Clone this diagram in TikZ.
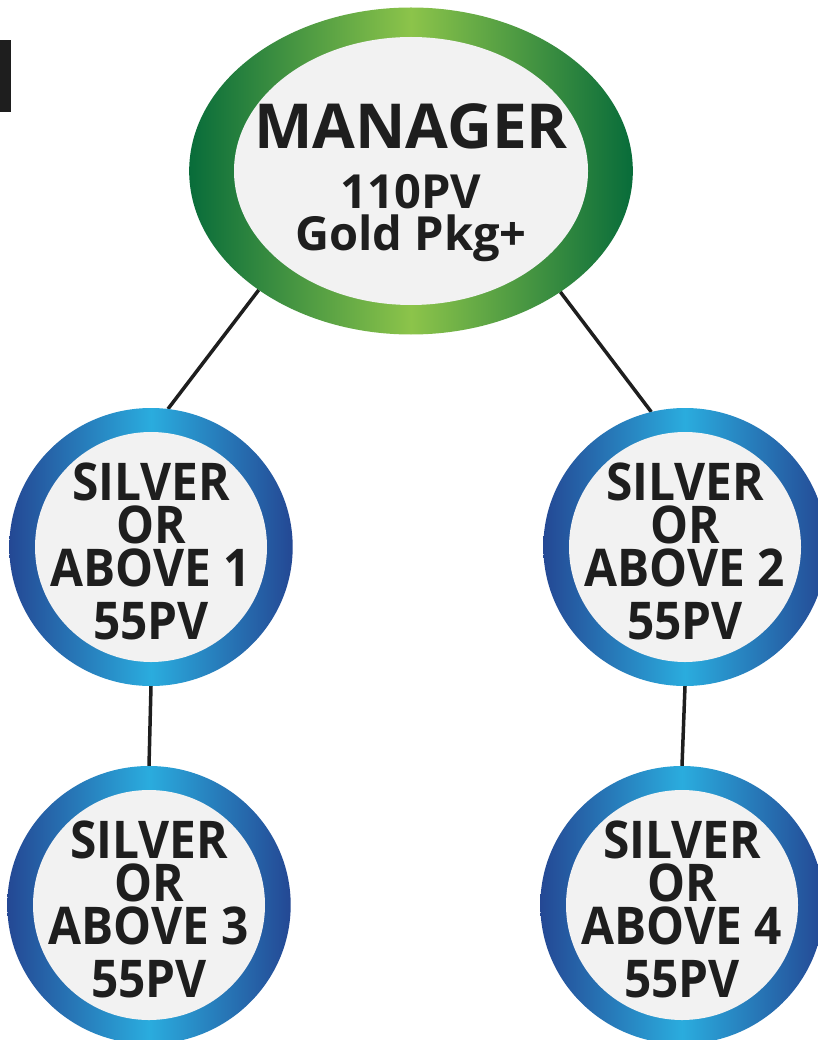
\documentclass[tikz,border=0pt]{standalone}
\usepackage{fontspec}
\newfontfamily\chartfont{Open Sans}[FakeStretch=0.92]
\newfontfamily\headfont{Open Sans}
\usetikzlibrary{shapes.geometric,backgrounds}

\definecolor{mgrdark}{RGB}{8,108,58}
\definecolor{mgrlight}{RGB}{140,196,74}
\definecolor{lvldark}{RGB}{36,72,148}
\definecolor{lvllight}{RGB}{42,172,222}
\definecolor{innerfill}{RGB}{242,242,242}
\definecolor{inktext}{RGB}{30,30,30}

\begin{document}
\begin{tikzpicture}[x=1pt,y=-1pt]

        \tikzset{
            ring/.style={ellipse, inner sep=0pt, outer sep=0pt, align=center, text=inktext},
            manager/.style={ring, minimum width=436pt, minimum height=327pt,
                left color=mgrdark, right color=mgrdark, middle color=mgrlight,
                path picture={\fill[innerfill] (path picture bounding box.center)
                    ellipse [x radius=177pt, y radius=134pt];},
                font=\headfont\bfseries\fontsize{47}{42}\selectfont},
            member/.style={ring, minimum width=276pt, minimum height=278pt,
                left color=lvldark, right color=lvldark, middle color=lvllight,
                path picture={\fill[innerfill] (path picture bounding box.center)
                    ellipse [x radius=116pt, y radius=115pt];},
                font=\chartfont\bfseries\fontsize{52}{43}\selectfont},
            link/.style={line width=3.5pt, inktext}
        }

        \useasboundingbox (0,0) rectangle (818,1040);

        \fill[inktext] (0,40) rectangle (11,112);

        \node[manager] (mgr) at (411,171)
        {{\fontsize{62}{62}\selectfont\rule{0pt}{68pt}MANAGER}\\[18pt]110PV\\Gold Pkg+};

        \node[member] (s1) at (151,547) {\rule{0pt}{47pt}SILVER\\OR\\ABOVE 1\\[10pt]55PV};
        \node[member] (s2) at (685,547) {\rule{0pt}{47pt}SILVER\\OR\\ABOVE 2\\[10pt]55PV};
        \node[member] (s3) at (149,905) {\rule{0pt}{47pt}SILVER\\OR\\ABOVE 3\\[10pt]55PV};
        \node[member] (s4) at (682,905) {\rule{0pt}{47pt}SILVER\\OR\\ABOVE 4\\[10pt]55PV};

        \begin{scope}[on background layer]
            \draw[link] (mgr.218) -- (s1.83);
            \draw[link] (mgr.321) -- (s2.104);
            \draw[link] (s1.south) -- (s3.north);
            \draw[link] (s2.south) -- (s4.north);
        \end{scope}

    \end{tikzpicture}
\end{document}
